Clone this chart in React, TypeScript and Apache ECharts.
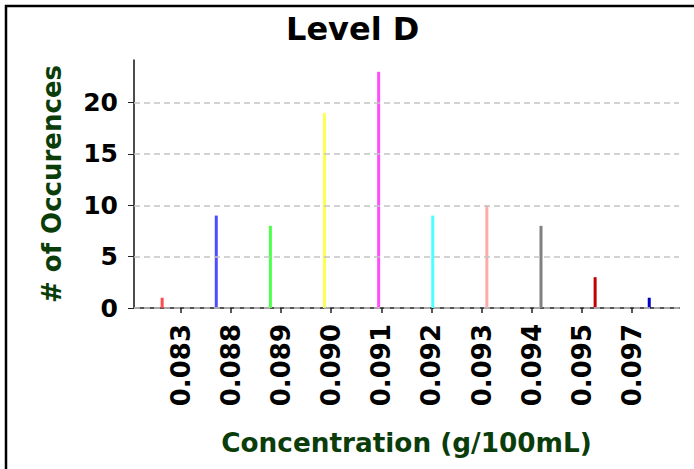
import React, { useEffect, useRef } from 'react';
import * as echarts from 'echarts';

const tickLabels = ['0.083', '0.088', '0.089', '0.090', '0.091', '0.092', '0.093', '0.094', '0.095', '0.097'];
const tickIndex = [0, 1, 2, 3, 4, 5, 6, 7, 8, 9];
const barCounts = [1, 9, 8, 19, 23, 9, 10, 8, 3, 1];
const barColors = ['#ff4d4d', '#4d4dff', '#4dff4d', '#ffff4d', '#ff4dff', '#4dffff', '#ffaaaa', '#808080', '#c00000', '#0000c0'];
const yTicks = [0, 5, 10, 15, 20];
const gridValues = [0, 5, 10, 15, 20];

const FONT = 'DejaVu Sans';
const GREEN = '#0a3d0a';

export default function App() {
  const ref = useRef<HTMLDivElement>(null);
  useEffect(() => {
    if (!ref.current) return;
    const chart = echarts.init(ref.current, undefined, { renderer: 'svg' });
    chart.setOption({
      animation: false,
      backgroundColor: '#ffffff',
      title: {
        text: 'Level D',
        left: 286,
        top: 13,
        padding: 0,
        textStyle: { fontFamily: FONT, fontWeight: 'bold', fontSize: 32, color: '#000' },
      },
      graphic: [
        {
          type: 'rect',
          shape: { x: 6, y: 6, width: 900, height: 700 },
          style: { fill: 'none', stroke: '#000', lineWidth: 2.5 },
          silent: true,
          z: 100,
        },
      ],
      grid: { left: 134, top: 60, right: 15, bottom: 161, containLabel: false, outerBoundsMode: 'none' },
      xAxis: [
        {
          type: 'value',
          gridIndex: 0,
          position: 'bottom',
          min: -0.52,
          max: 9.55,
          axisLine: { show: true, onZero: true, lineStyle: { color: '#555', width: 2 } },
          axisTick: { show: false },
          axisLabel: { show: false },
          splitLine: { show: false },
          name: 'Concentration (g/100mL)',
          nameLocation: 'middle',
          nameGap: 122,
          nameTextStyle: { fontFamily: FONT, fontWeight: 'bold', fontSize: 26.3, color: GREEN },
        },
        {
          type: 'value',
          gridIndex: 0,
          position: 'bottom',
          min: -0.931,
          max: 9.938,
          axisLine: { show: false },
          axisTick: { show: true, customValues: tickIndex, length: 5, lineStyle: { color: '#222', width: 1.5 } },
          axisLabel: {
            show: true,
            customValues: tickIndex,
            rotate: 90,
            margin: 16,
            formatter: (v: number) => tickLabels[Math.round(v)] ?? '',
            fontFamily: FONT,
            fontWeight: 'bold',
            fontSize: 26,
            color: '#000',
          },
          splitLine: { show: false },
        },
      ],
      yAxis: {
        type: 'value',
        min: 0,
        max: 24.15,
        axisLine: { show: true, onZero: false, lineStyle: { color: '#111', width: 1.5 } },
        axisTick: { show: true, customValues: yTicks, length: 6, lineStyle: { color: '#222', width: 1 } },
        axisLabel: {
          customValues: yTicks,
          margin: 16,
          fontFamily: FONT,
          fontWeight: 'bold',
          fontSize: 25,
          color: '#000',
        },
        splitLine: { show: false },
        name: '# of Occurences',
        nameLocation: 'middle',
        nameGap: 69,
        nameTextStyle: { fontFamily: FONT, fontWeight: 'bold', fontSize: 26, color: GREEN },
      },
      series: [
        {
          type: 'line',
          xAxisIndex: 0,
          data: [],
          z: 1,
          silent: true,
          markLine: {
            silent: true,
            symbol: ['none', 'none'],
            label: { show: false },
            lineStyle: { type: [6, 4], color: '#c4c4c4', width: 1.5 },
            data: gridValues.map((v) => ({ yAxis: v })),
          },
        },
        {
          type: 'bar',
          xAxisIndex: 0,
          barWidth: 3,
          z: 3,
          data: barCounts.map((v, i) => ({ value: [i, v], itemStyle: { color: barColors[i] } })),
        },
      ],
    });
    return () => chart.dispose();
  }, []);
  return <div ref={ref} style={{ position: 'fixed', left: 0, top: 0, width: 694, height: 469 }} />;
}
